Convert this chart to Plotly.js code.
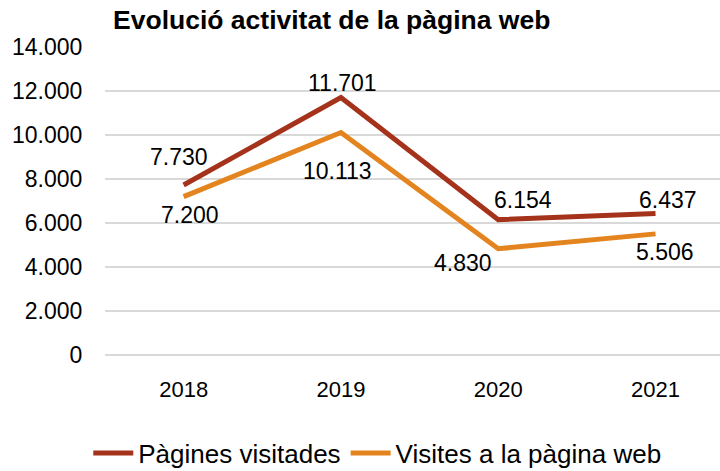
<!DOCTYPE html>
<html>
<head>
<meta charset="utf-8">
<script src="https://cdn.plot.ly/plotly-3.0.1.min.js"></script>
<style>html,body{margin:0;padding:0;background:#fff;}#chart{width:720px;height:471px;}</style>
</head>
<body>
<div id="chart"></div>
<script>
const years = ['2018', '2019', '2020', '2021'];
const paginesVisitades = [7730, 11701, 6154, 6437];
const visitesPaginaWeb = [7200, 10113, 4830, 5506];
const seriesNames = ['Pàgines visitades', 'Visites a la pàgina web'];
const chartTitle = 'Evolució activitat de la pàgina web';

// label offsets (style only, pixels)
const offA = [[-5, 28], [2, 15], [25, 20], [12, 13]];
const offB = [[6, -18], [-3, -38], [-35, -14], [9, -18]];

function fmt(v) { return String(v).replace(/\B(?=(\d{3})+(?!\d))/g, '.'); }

const colA = '#A5321A';
const colB = '#E3841F';
const font = 'Liberation Sans, Arial, sans-serif';

const traces = [
  { x: years, y: paginesVisitades, type: 'scatter', mode: 'lines', name: seriesNames[0],
    line: { color: colA, width: 5 }, hoverinfo: 'skip' },
  { x: years, y: visitesPaginaWeb, type: 'scatter', mode: 'lines', name: seriesNames[1],
    line: { color: colB, width: 5 }, hoverinfo: 'skip' }
];

const annotations = [];
years.forEach((yr, i) => {
  annotations.push({ x: i, y: paginesVisitades[i], xref: 'x', yref: 'y', text: fmt(paginesVisitades[i]),
    showarrow: false, xshift: offA[i][0], yshift: offA[i][1], font: { family: font, size: 23, color: '#000' } });
  annotations.push({ x: i, y: visitesPaginaWeb[i], xref: 'x', yref: 'y', text: fmt(visitesPaginaWeb[i]),
    showarrow: false, xshift: offB[i][0], yshift: offB[i][1], font: { family: font, size: 23, color: '#000' } });
});

const layout = {
  width: 720, height: 471,
  margin: { l: 105, r: 0, t: 47, b: 116 },
  paper_bgcolor: '#fff', plot_bgcolor: '#fff',
  separators: ',.',
  font: { family: font, color: '#000' },
  title: { text: '<b>' + chartTitle + '</b>', xref: 'container', yref: 'container', x: 0.157, xanchor: 'left',
    y: 0.958, yanchor: 'middle', font: { family: font, size: 26.5, color: '#000' } },
  xaxis: { type: 'category', range: [-0.5, 3.41], showgrid: false, zeroline: false, showline: false,
    ticks: 'outside', ticklen: 15, tickcolor: 'rgba(0,0,0,0)', tickfont: { family: font, size: 22, color: '#000' },
    fixedrange: true },
  yaxis: { range: [0, 14000], dtick: 2000, tick0: 0, tickformat: ',d', showgrid: true, gridcolor: '#D9D9D9', gridwidth: 1.5,
    zeroline: true, zerolinecolor: '#D9D9D9', zerolinewidth: 1.5, showline: false,
    ticks: 'outside', ticklen: 17, tickcolor: 'rgba(0,0,0,0)', tickfont: { family: font, size: 23, color: '#000' },
    fixedrange: true },
  showlegend: true,
  legend: { orientation: 'h', xref: 'container', yref: 'container', x: 0.524, xanchor: 'center', y: 0.038, yanchor: 'middle',
    font: { family: font, size: 26, color: '#000' }, itemwidth: 40, traceorder: 'normal' },
  annotations: annotations
};

Plotly.newPlot('chart', traces, layout, { staticPlot: true, displayModeBar: false });
</script>
</body>
</html>
